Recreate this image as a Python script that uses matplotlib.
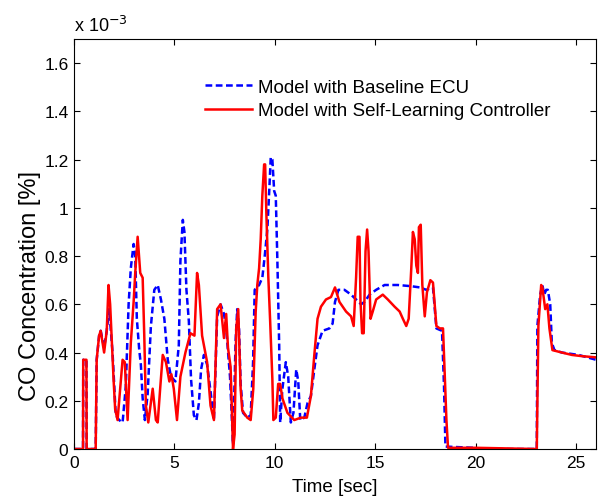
import matplotlib
matplotlib.use("Agg")
import matplotlib.pyplot as plt
from matplotlib.ticker import FuncFormatter

# CO concentration in units of 1e-3 %
t_red = [0, 0.45, 0.46, 0.62, 0.63, 1.08, 1.13, 1.25, 1.33, 1.5, 1.63, 1.72, 1.8, 1.97, 2.05, 2.17,
         2.28, 2.42, 2.53, 2.67, 2.83, 2.97, 3.05, 3.17, 3.3, 3.42, 3.5, 3.58, 3.7, 3.92, 4.08, 4.17,
         4.3, 4.42, 4.58, 4.75, 4.85, 4.97, 5.13, 5.3, 5.55, 5.8, 6.0, 6.13, 6.22, 6.38, 6.63, 6.8,
         6.97, 7.13, 7.3, 7.47, 7.58, 7.67, 7.8, 7.92, 8.0, 8.08, 8.18, 8.3, 8.38, 8.63, 8.8, 8.93,
         9.05, 9.13, 9.22, 9.3, 9.38, 9.47, 9.52, 9.58, 9.68, 9.77, 9.88, 9.93, 10.05, 10.17, 10.27,
         10.38, 10.63, 10.97, 11.3, 11.6, 11.8, 11.97, 12.13, 12.3, 12.55, 12.8, 13.0, 13.22, 13.55,
         13.8, 13.93, 14.05, 14.13, 14.22, 14.27, 14.35, 14.43, 14.52, 14.6, 14.67, 14.77, 14.88,
         15.05, 15.38, 15.63, 15.97, 16.22, 16.38, 16.55, 16.67, 16.8, 16.88, 16.97, 17.05, 17.13,
         17.18, 17.27, 17.35, 17.47, 17.58, 17.75, 17.88, 18.05, 18.22, 18.38, 18.47, 18.55, 18.63,
         20.0, 23.05, 23.13, 23.27, 23.33, 23.47, 23.58, 23.68, 23.83, 24.3, 24.8, 25.3, 26.0]
co_red = [0, 0, 0.37, 0.37, 0, 0, 0.37, 0.47, 0.49, 0.40, 0.49, 0.68, 0.60, 0.29, 0.165, 0.12,
          0.23, 0.37, 0.36, 0.12, 0.44, 0.61, 0.73, 0.88, 0.73, 0.71, 0.47, 0.18, 0.11, 0.25, 0.12, 0.11,
          0.26, 0.39, 0.36, 0.28, 0.31, 0.25, 0.12, 0.30, 0.40, 0.48, 0.47, 0.73, 0.68, 0.47, 0.36, 0.18,
          0.12, 0.58, 0.60, 0.46, 0.56, 0.42, 0.34, 0.0, 0.06, 0.50, 0.58, 0.25, 0.16, 0.13, 0.12, 0.25,
          0.57, 0.68, 0.75, 0.87, 1.05, 1.18, 1.18, 0.98, 0.71, 0.53, 0.29, 0.12, 0.13, 0.27, 0.27,
          0.21, 0.15, 0.12, 0.13, 0.13, 0.22, 0.39, 0.54, 0.59, 0.62, 0.63, 0.67, 0.61, 0.57,
          0.55, 0.51, 0.71, 0.88, 0.88, 0.61, 0.48, 0.48, 0.82, 0.91, 0.82, 0.54, 0.57,
          0.62, 0.64, 0.62, 0.59, 0.57, 0.54, 0.51, 0.54, 0.75, 0.90, 0.87, 0.76, 0.73,
          0.92, 0.93, 0.68, 0.55, 0.65, 0.70, 0.69, 0.51, 0.50, 0.50, 0.30, 0.12, 0.005,
          0.005, 0.0, 0.51, 0.68, 0.67, 0.58, 0.60, 0.50, 0.41, 0.40, 0.39, 0.385, 0.38]

t_blue = [0, 0.45, 0.46, 0.62, 0.63, 1.08, 1.13, 1.25, 1.33, 1.5, 1.63, 1.75, 1.92, 2.08, 2.25, 2.42,
          2.58, 2.72, 2.83, 2.97, 3.05, 3.13, 3.25, 3.33, 3.42, 3.53, 3.67, 3.83, 4.0, 4.17, 4.33,
          4.5, 4.67, 4.83, 5.05, 5.22, 5.3, 5.42, 5.5, 5.6, 5.72, 5.83, 5.97, 6.1, 6.22, 6.33, 6.47,
          6.63, 6.8, 6.97, 7.13, 7.3, 7.47, 7.58, 7.77, 7.92, 8.05, 8.13, 8.22, 8.3, 8.42, 8.63, 8.8,
          8.92, 9.0, 9.22, 9.38, 9.5, 9.63, 9.73, 9.8, 9.88, 9.97, 10.05, 10.13, 10.22, 10.27, 10.38,
          10.55, 10.67, 10.8, 10.93, 11.07, 11.17, 11.27, 11.47, 11.63, 11.8, 11.97, 12.13, 12.38,
          12.72, 12.88, 13.0, 13.17, 13.47, 13.8, 14.05, 14.3, 14.47, 14.72, 15.05, 15.47, 16.13,
          16.8, 17.22, 17.55, 17.88, 18.05, 18.33, 18.43, 18.5, 19.9, 20.0, 23.05, 23.08, 23.22,
          23.33, 23.42, 23.52, 23.6, 23.72, 23.8, 23.93, 24.3, 25.13, 26.0]
co_blue = [0, 0, 0.37, 0.37, 0, 0, 0.37, 0.47, 0.49, 0.42, 0.49, 0.58, 0.40, 0.14, 0.12, 0.11,
           0.26, 0.60, 0.75, 0.85, 0.80, 0.54, 0.41, 0.35, 0.21, 0.12, 0.23, 0.51, 0.66, 0.68, 0.62,
           0.54, 0.37, 0.30, 0.28, 0.43, 0.78, 0.95, 0.90, 0.66, 0.53, 0.29, 0.14, 0.12, 0.19, 0.33, 0.39,
           0.35, 0.24, 0.12, 0.55, 0.60, 0.56, 0.50, 0.30, 0.02, 0.45, 0.58, 0.50, 0.27, 0.15, 0.13, 0.14,
           0.36, 0.66, 0.68, 0.71, 0.80, 0.91, 1.08, 1.21, 1.20, 1.07, 1.05, 0.78, 0.43, 0.11, 0.25,
           0.36, 0.30, 0.11, 0.15, 0.33, 0.28, 0.12, 0.13, 0.19, 0.22, 0.33, 0.43, 0.49,
           0.50, 0.52, 0.61, 0.66, 0.66, 0.64, 0.62, 0.60, 0.61, 0.64, 0.66, 0.68, 0.68,
           0.675, 0.67, 0.66, 0.67, 0.50, 0.49, 0.26, 0.01, 0.005, 0.0, 0.0, 0.51, 0.64,
           0.68, 0.64, 0.66, 0.66, 0.60, 0.44, 0.41, 0.40, 0.39, 0.37]

scale = 1e-3
x_ticks = [0, 5, 10, 15, 20, 25]
y_ticks = [0, 0.2, 0.4, 0.6, 0.8, 1.0, 1.2, 1.4, 1.6]
label_blue = "Model with Baseline ECU"
label_red = "Model with Self-Learning Controller"

plt.rcParams['font.family'] = ['Liberation Sans', 'DejaVu Sans']
plt.rcParams['font.size'] = 13

fig = plt.figure(figsize=(6.05, 5.02), dpi=100)
ax = fig.add_axes([74/605, 52/502, 522/605, 410/502])

ax.plot(t_blue, [v * scale for v in co_blue], color='#0000ff', lw=1.8,
        linestyle=(0, (2.7, 1.4)), label=label_blue)
ax.plot(t_red, [v * scale for v in co_red], color='#ff0000', lw=1.8, label=label_red)

ax.set_xlim(0, 26)
ax.set_ylim(0, 1.7e-3)
ax.set_xticks(x_ticks)
ax.set_yticks([v * scale for v in y_ticks])
ax.yaxis.set_major_formatter(FuncFormatter(lambda v, p: f"{v / scale:g}"))
ax.tick_params(direction='in', top=True, right=True, length=4, width=0.8, pad=4,
               labelsize=12.5)
for s in ax.spines.values():
    s.set_linewidth(0.8)

ax.set_xlabel("Time [sec]", labelpad=6, fontsize=13.5)
ax.set_ylabel("CO Concentration [%]", fontsize=17)
ax.yaxis.set_label_coords(-0.063, 0.40)
ax.text(0.0, 1.01, "x 10$^{-3}$", transform=ax.transAxes, ha='left', va='bottom', fontsize=13)

ax.legend(loc='upper left', bbox_to_anchor=(0.218, 0.945), frameon=False, fontsize=13.5,
          handlelength=2.5, handletextpad=0.32, labelspacing=0.35, borderpad=0.4)

fig.savefig("out.png", dpi=100)
